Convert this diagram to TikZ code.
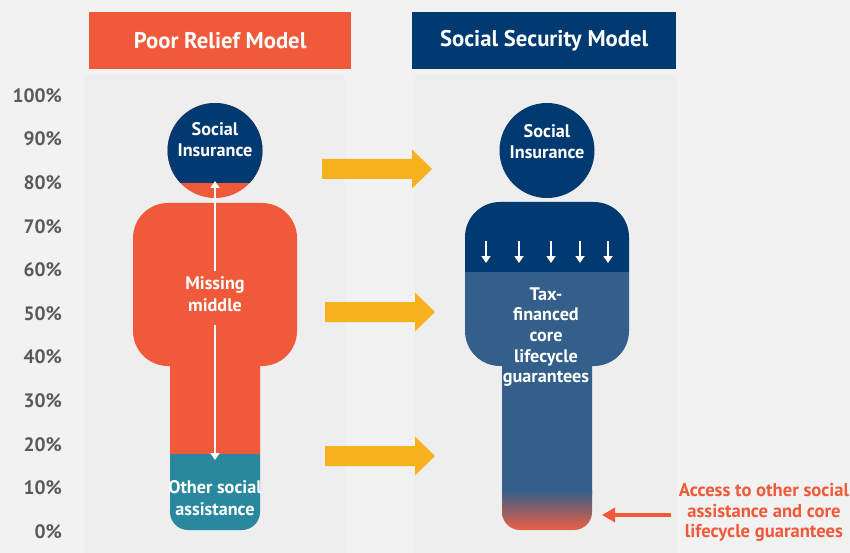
\documentclass[tikz,border=0pt]{standalone}
\usepackage{fontspec}
\setmainfont{PT Sans}
\definecolor{bgc}{HTML}{F2F2F2}
\definecolor{panelc}{HTML}{EEEEEE}
\definecolor{orangec}{HTML}{F05A3A}
\definecolor{navyc}{HTML}{003A70}
\definecolor{midc}{HTML}{335F8A}
\definecolor{tealc}{HTML}{2A889E}
\definecolor{yellowc}{HTML}{F6B11C}
\definecolor{axisc}{HTML}{595959}
\definecolor{redgrad}{HTML}{EC5F45}
\usetikzlibrary{arrows.meta}
\tikzset{
  header/.style={font=\bfseries\fontsize{22.7}{26}\selectfont,text=white,inner sep=0pt,minimum height=57pt,anchor=north west},
  inlabel/.style={font=\bfseries\fontsize{18.2}{21.5}\selectfont,text=white,align=center,inner sep=0pt},
  axlabel/.style={font=\bfseries\fontsize{19.4}{22}\selectfont,text=axisc,anchor=east,inner sep=0pt},
  notelabel/.style={font=\bfseries\fontsize{18.6}{20.5}\selectfont,text=orangec,align=center,inner sep=0pt},
  whitearrow/.style={draw=white,line width=2pt,-{Triangle[width=9pt,length=7pt]}},
  redarrow/.style={draw=orangec,line width=3.5pt,-{Triangle[width=14pt,length=13pt]}},
  bigarrow/.style={fill=yellowc,draw=none},
}
\newcommand{\yarrow}[2]{% tail x, centre y
  \fill[bigarrow] (#1,{#2-10}) -- ({#1+90},{#2-10}) -- ({#1+90},{#2-19.5}) -- ({#1+110},#2) -- ({#1+90},{#2+19.5}) -- ({#1+90},{#2+10}) -- (#1,{#2+10}) -- cycle;}
\begin{document}
\begin{tikzpicture}[x=1pt,y=-1pt]
\useasboundingbox (0,0) rectangle (850,553);
\fill[bgc] (0,0) rectangle (850,553);
\fill[panelc] (84,75) rectangle (345,553);
\fill[panelc] (415,75) rectangle (677,553);
% headers
\node[header,fill=orangec,minimum width=262pt] (hleft) at (89,12) {Poor Relief Model};
\node[header,fill=navyc,minimum width=264pt] (hright) at (412,12) {Social Security Model};
% axis
\foreach \v [count=\i from 0] in {100,90,80,70,60,50,40,30,20,10,0}
  \node[axlabel] (ax\v) at (62,{95.5+43.6*\i}) {\v\%};
% left figure
\fill[orangec] (215,150.5) circle[radius=47.5pt];
\begin{scope}
  \clip (160,95) rectangle (270,183);
  \fill[navyc] (215,150.5) circle[radius=47.5pt];
\end{scope}
\fill[orangec] (133,238) [rounded corners=35pt] -- (133,203) -- (297,203) -- (297,366) [sharp corners] -- (260,366) -- (260,454) -- (170,454) -- (170,366) [rounded corners=35pt] -- (133,366) [sharp corners] -- cycle;
\fill[tealc] (170,454) -- (260,454) [rounded corners=18pt] -- (260,530) -- (170,530) [sharp corners] -- cycle;
\node[inlabel] (lhead) at (215,139.5) {Social\\[-1pt]Insurance};
\node[inlabel] (lmid) at (215,294) {Missing\\middle};
\node[inlabel] (lother) at (215,498) {Other social\\assistance};
\coordinate (upA) at (215,271);
\coordinate (upB) at (215,181);
\coordinate (dnA) at (215,325);
\coordinate (dnB) at (215,460);
\draw[whitearrow] (upA) -- (upB);
\draw[whitearrow] (dnA) -- (dnB);
% right figure
\fill[navyc] (547,150.5) circle[radius=47.5pt];
\fill[navyc] (465,272) [rounded corners=35pt] -- (465,202) -- (629,202) [sharp corners] -- (629,272) -- cycle;
\fill[midc] (465,272) -- (629,272) [rounded corners=35pt] -- (629,366) [sharp corners] -- (592,366) -- (592,495) -- (502,495) -- (502,366) [rounded corners=35pt] -- (465,366) [sharp corners] -- cycle;
\shade[top color=midc,bottom color=redgrad] (502,490) -- (592,490) [rounded corners=18pt] -- (592,530) -- (502,530) [sharp corners] -- cycle;
\node[inlabel] (rhead) at (547,141.5) {Social\\[-1pt]Insurance};
\node[inlabel,font=\bfseries\fontsize{18.2}{20.6}\selectfont] (rtax) at (546,337) {Tax-\\financed\\core\\lifecycle\\guarantees};
\foreach \x [count=\i] in {486,519,551,580,608}{
  \coordinate (sa\i) at (\x,241);
  \coordinate (sb\i) at (\x,263);
  \draw[whitearrow] (sa\i) -- (sb\i);
}
% yellow arrows
\yarrow{322}{169}
\yarrow{325}{312}
\yarrow{325}{456}
% note
\node[notelabel] (note) at (764,512.5) {Access to other social\\assistance and core\\lifecycle guarantees};
\coordinate (notetail) at (671,515);
\coordinate (notetip) at (602,515);
\draw[redarrow] (notetail) -- (notetip);
\end{tikzpicture}
\end{document}
